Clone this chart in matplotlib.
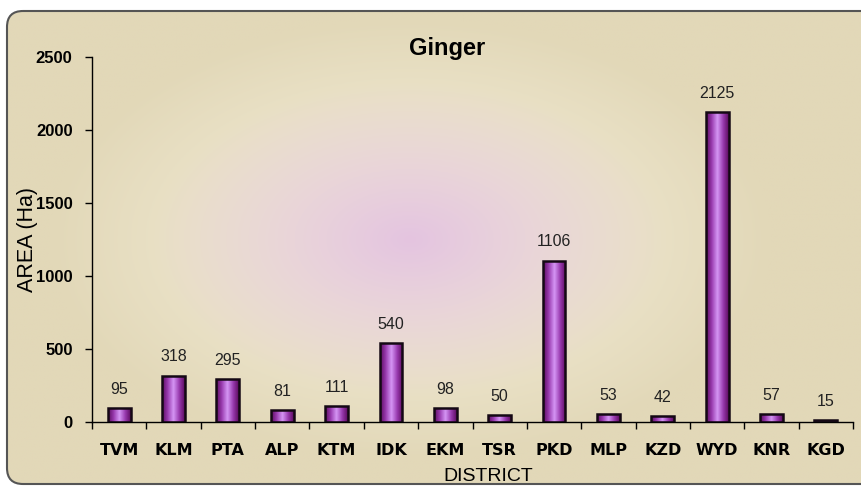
import matplotlib
matplotlib.use("Agg")
import matplotlib.pyplot as plt
import numpy as np
from matplotlib.patches import FancyBboxPatch
from matplotlib.colors import LinearSegmentedColormap

districts = ["TVM", "KLM", "PTA", "ALP", "KTM", "IDK", "EKM", "TSR", "PKD",
             "MLP", "KZD", "WYD", "KNR", "KGD"]
area = [95, 318, 295, 81, 111, 540, 98, 50, 1106, 53, 42, 2125, 57, 15]
yticks = [0, 500, 1000, 1500, 2000, 2500]

fig = plt.figure(figsize=(8.61, 4.86), dpi=100)
fig.patch.set_facecolor("white")

# background panel: beige with a pinkish glow in the middle
bg = fig.add_axes([0, 0, 1, 1], zorder=-10)
bg.set_xlim(0, 861)
bg.set_ylim(486, 0)
bg.axis("off")
xx, yy = np.meshgrid(np.linspace(0, 861, 300), np.linspace(0, 486, 200))
d = np.sqrt(((xx - 410) / 360) ** 2 + ((yy - 240) / 220) ** 2)
beige = np.array([226, 216, 184]) / 255
light = np.array([242, 235, 214]) / 255
pink = np.array([228, 196, 224]) / 255
t = np.clip(d, 0, 1)[..., None] ** 1.5
w = np.clip(1 - d * 1.4, 0, 1)[..., None]
img = beige * t + light * (1 - t)
img = img * (1 - w) + pink * w
frame = FancyBboxPatch((7, 11), 880, 473, boxstyle="round,pad=0,rounding_size=16",
                       fc="none", ec="#555555", lw=1.5, zorder=3)
bg.add_patch(frame)
im = bg.imshow(img, extent=(0, 861, 486, 0), aspect="auto", zorder=1)
im.set_clip_path(frame)

ax = fig.add_axes([92 / 861, 1 - 422 / 486, 761 / 861, (422 - 57) / 486])
ax.patch.set_alpha(0)
x = np.arange(len(districts))
bars = ax.bar(x, area, width=0.42, color="none", edgecolor="#140814", lw=1.8, zorder=3)

cmap = LinearSegmentedColormap.from_list(
    "bar", ["#5c0a60", "#9a3cb0", "#d596f5", "#9a3cb0", "#5c0a60"])
grad = np.linspace(0, 1, 64)[None, :]
for b in bars:
    gi = ax.imshow(grad, cmap=cmap, aspect="auto", zorder=2,
                   extent=(b.get_x(), b.get_x() + b.get_width(), 0, b.get_height()))
    gi.set_clip_path(b)

for xi, v in zip(x, area):
    ax.annotate(str(v), (xi, v), xytext=(0, 8), textcoords="offset points",
                ha="center", va="bottom", fontsize=11.5, family="Liberation Sans",
                color="#222222")

ax.set_xlim(-0.5, len(districts) - 0.5)
ax.set_ylim(0, 2500)
ax.set_yticks(yticks)
ax.set_yticklabels([str(v) for v in yticks], fontsize=12, fontweight="bold",
                   family="Liberation Sans")
ax.set_xticks(x)
ax.set_xticklabels(districts, fontsize=11.5, fontweight="bold", family="DejaVu Sans")
ax.set_xticks(np.arange(len(districts) + 1) - 0.5, minor=True)
ax.tick_params(axis="x", which="major", length=0, pad=15)
ax.tick_params(axis="x", which="minor", length=5, direction="out", width=1)
ax.tick_params(axis="y", length=5, width=1, pad=9)
for s in ["top", "right"]:
    ax.spines[s].set_visible(False)
ax.spines["left"].set_linewidth(1)
ax.spines["bottom"].set_linewidth(1)

fig.text(447 / 861, 1 - 48 / 486, "Ginger", ha="center", va="center",
         fontsize=17, fontweight="bold", family="Liberation Sans")
fig.text(488 / 861, 1 - 476 / 486, "DISTRICT", ha="center", va="center",
         fontsize=14, family="Liberation Sans")
fig.text(28 / 861, 1 - 239 / 486, "AREA (Ha)", rotation=90, ha="center", va="center",
         fontsize=15.5, family="Liberation Sans")

fig.savefig("out.png", dpi=100)
